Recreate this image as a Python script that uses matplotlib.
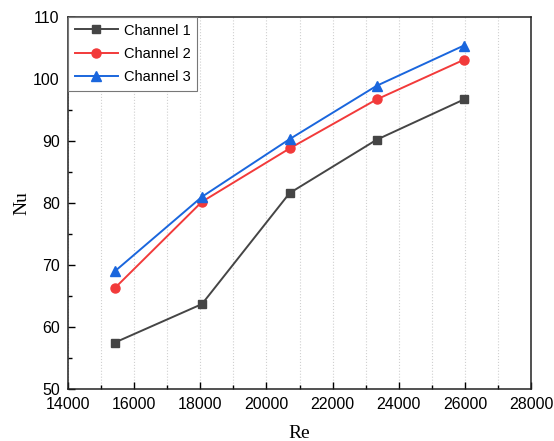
import matplotlib
matplotlib.use('Agg')
import matplotlib.pyplot as plt
from matplotlib.ticker import MultipleLocator

re_vals = [15420, 18050, 20700, 23330, 25970]
nu_ch1 = [57.5, 63.7, 81.6, 90.2, 96.7]
nu_ch2 = [66.3, 80.2, 88.8, 96.7, 103.1]
nu_ch3 = [69.0, 81.0, 90.3, 98.9, 105.4]
labels = ['Channel 1', 'Channel 2', 'Channel 3']

plt.rcParams['font.family'] = 'Liberation Sans'

fig = plt.figure(figsize=(5.54, 4.41), dpi=100)
ax = fig.add_axes([0.1227, 0.1179, 0.836, 0.8436])

ax.plot(re_vals, nu_ch1, '-s', color='#454545', lw=1.4, ms=6, label=labels[0])
ax.plot(re_vals, nu_ch2, '-o', color='#f23a3a', lw=1.4, ms=6.5, label=labels[1])
ax.plot(re_vals, nu_ch3, '-^', color='#1a66dd', lw=1.4, ms=7.5, label=labels[2])

ax.set_xlim(14000, 28000)
ax.set_ylim(50, 110)
ax.xaxis.set_major_locator(MultipleLocator(2000))
ax.xaxis.set_minor_locator(MultipleLocator(1000))
ax.yaxis.set_major_locator(MultipleLocator(10))
ax.yaxis.set_minor_locator(MultipleLocator(5))
ax.tick_params(which='both', direction='in', labelsize=11.5, top=False, right=False, pad=6)
ax.tick_params(which='major', length=5, width=1)
ax.tick_params(which='minor', length=3, width=1)
ax.grid(True, axis='x', which='both', color='#d0d0d0', ls=':', lw=0.8)
for s in ax.spines.values():
    s.set_linewidth(1.1)
    s.set_color('#222222')

ax.set_xlabel('Re', family='Liberation Serif', fontsize=14, labelpad=9)
ax.set_ylabel('Nu', family='Liberation Serif', fontsize=14, labelpad=2)

leg = ax.legend(loc='upper left', fontsize=10.5, fancybox=False, framealpha=1,
                edgecolor='#777777', borderaxespad=0, handlelength=3.0,
                handletextpad=0.4, labelspacing=0.65, borderpad=0.45)
leg.get_frame().set_linewidth(0.8)

fig.savefig('out.png', dpi=100)
